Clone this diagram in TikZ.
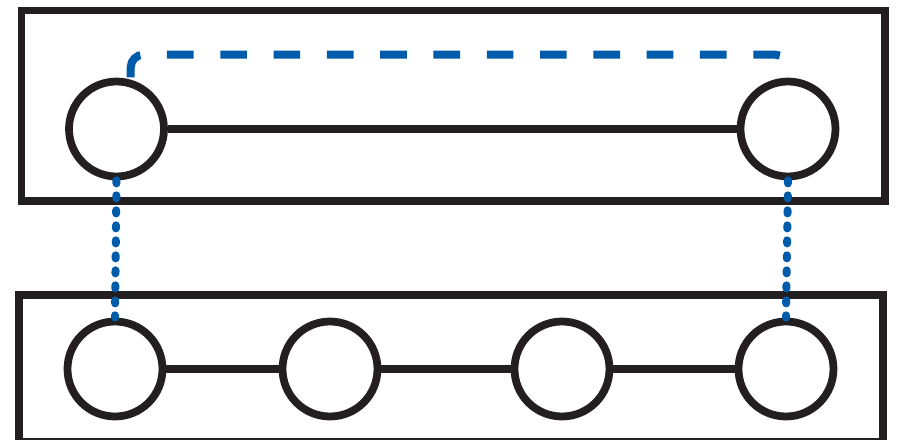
\documentclass[tikz,border=0pt]{standalone}
\usepackage{xcolor,tikz}
\usetikzlibrary{positioning,calc,backgrounds}
\definecolor{ink}{RGB}{35,31,32}
\definecolor{link}{RGB}{0,91,170}
\tikzset{
  frame/.style={draw=ink,line width=0.145cm},
  ring/.style={circle,draw=ink,fill=white,line width=0.155cm,minimum size=1.9cm,inner sep=0pt},
  edge/.style={draw=ink,line width=0.17cm},
  jump/.style={draw=link,line width=0.16cm,dash pattern=on 0.533cm off 0.533cm,dash phase=0.9cm,rounded corners=0.26cm},
  tie/.style={draw=link,line width=0.16cm,line cap=round,dash pattern=on 0.06cm off 0.24cm}
}
\begin{document}
\begin{tikzpicture}
  \useasboundingbox (0,0) rectangle (17.94,8.8);
  % the two frames
  \draw[frame] (0.43,4.78) rectangle (17.70,8.59);
  \draw[frame] (0.38,-0.04) rectangle (17.66,2.90);

  % upper level
  \node[ring] (tl) at (2.33,6.22) {};
  \node[ring] (tr) at (15.76,6.22) {};
  \draw[edge] (tl.east) -- (tr.west);

  % lower level
  \foreach \n/\x in {1/2.30,2/6.60,3/11.24,4/15.72}{\node[ring] (b\n) at (\x,1.42) {};}
  \foreach \a/\b in {1/2,2/3,3/4}{\draw[edge] (b\a.east) -- (b\b.west);}

  % blue links
  \begin{scope}[on background layer]
    \draw[jump] ($(tl.74)+(0,-0.12)$) -- ++(0,0.62) -| (tr.north);
  \end{scope}
  \draw[tie] (tl.south) -- (b1.north);
  \draw[tie] (tr.south) -- (b4.north);
\end{tikzpicture}
\end{document}
